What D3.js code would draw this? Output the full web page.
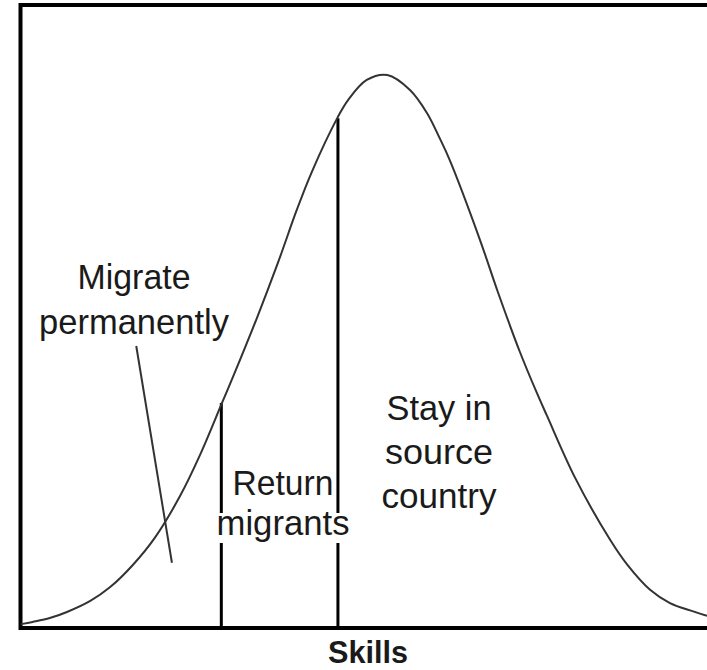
<!DOCTYPE html>
<html>
<head>
<meta charset="utf-8">
<script src="https://cdn.jsdelivr.net/npm/d3@7"></script>
<style>
  body { margin: 0; background: #fff; }
  svg { display: block; }
  text { font-family: "Liberation Sans", Arial, Helvetica, sans-serif; fill: #1a1a1a; }
</style>
</head>
<body>
<svg id="canvas" width="707" height="670"></svg>
<script>
//Skill level (0-100 across the frame) and share of population
var skill   = [0, 1.7, 4.2, 6.7, 10.1, 13.0, 16.3, 19.5, 23.2, 26.1, 29.3, 30.9, 34.4, 37.5, 40.2, 42.4,
               46.1, 47.7, 50.4, 53.4, 56.7, 59.2, 61.1, 62.5, 66.9, 69.5, 72.7, 75.2, 76.7, 80.8,
               85.9, 88.4, 91.7, 94.6, 98.0, 100];
var density = [0.7, 1.1, 1.8, 2.9, 4.9, 7.4, 11.4, 16.3, 23.9, 31.3, 40.7, 45.4, 56.1, 66.2, 75.6, 82.5,
               92.2, 95.5, 99.1, 100, 97.3, 93.1, 88.4, 84.6, 70.2, 60.8, 50.0, 42.5, 38.3, 27.1,
               15.9, 11.4, 6.9, 4.5, 3.0, 2.2];

//Cut-off skill levels between the groups, and the curve height there
var cutSkill  = [29.2, 46.2];
var cutHeight = [40.7, 92.2];

//Pointer from the "Migrate permanently" label into the left tail
var pointerSkill   = [16.8, 22.0];
var pointerDensity = [51.0, 11.8];

var migrateLabel = ["Migrate", "permanently"];
var returnLabel  = ["Return", "migrants"];
var stayLabel    = ["Stay in", "source", "country"];
var axisTitle    = "Skills";

var svg = d3.select("#canvas"),
  width = +svg.attr("width"),
  height = +svg.attr("height");

var x = d3.scaleLinear().domain([0, 100]).range([21, 707]);
var y = d3.scaleLinear().domain([0, 100]).range([628, 75]);

var points = skill.map(function(s, i) { return {s: s, d: density[i]}; });

//frame: left, top and bottom (right side runs off the picture)
svg.append("path")
  .attr("d", "M" + width + ",5 H20.5 V628 H" + width)
  .attr("fill", "none")
  .attr("stroke", "#000")
  .attr("stroke-width", 4);

//group boundaries
svg.append("g").selectAll("line")
  .data(cutSkill)
  .enter().append("line")
  .attr("x1", function(d) { return x(d); })
  .attr("x2", function(d) { return x(d); })
  .attr("y1", y(0))
  .attr("y2", function(d, i) { return y(cutHeight[i]); })
  .attr("stroke", "#000")
  .attr("stroke-width", 3);

//the skill distribution
var line = d3.line()
  .x(function(d) { return x(d.s); })
  .y(function(d) { return y(d.d); })
  .curve(d3.curveCatmullRom.alpha(0.5));

svg.append("path")
  .datum(points)
  .attr("d", line)
  .attr("fill", "none")
  .attr("stroke", "#333")
  .attr("stroke-width", 2);

//pointer line
svg.append("line")
  .attr("x1", x(pointerSkill[0])).attr("y1", y(pointerDensity[0]))
  .attr("x2", x(pointerSkill[1])).attr("y2", y(pointerDensity[1]))
  .attr("stroke", "#333")
  .attr("stroke-width", 2);

function addLabel(lines, cx, baseY, gap, widths, knockout) {
  var g = svg.append("g");
  lines.forEach(function(t, i) {
    var by = baseY + i * gap;
    if (knockout && i == lines.length - 1) {
      g.append("rect")
        .attr("x", cx - widths[i] / 2 - 2).attr("y", by - 22)
        .attr("width", widths[i] + 4).attr("height", 30)
        .attr("fill", "#fff");
    }
    g.append("text")
      .attr("x", cx).attr("y", by)
      .attr("text-anchor", "middle")
      .attr("font-size", 35)
      .attr("textLength", widths[i])
      .attr("lengthAdjust", "spacingAndGlyphs")
      .text(t);
  });
}

addLabel(migrateLabel, 134, 289, 45, [113, 190], false);
addLabel(returnLabel, 283, 495, 40, [101, 133], true);
addLabel(stayLabel, 439, 420, 44, [105, 108, 115], false);

svg.append("text")
  .attr("x", 368).attr("y", 663)
  .attr("text-anchor", "middle")
  .attr("font-size", 32)
  .attr("font-weight", "bold")
  .attr("textLength", 80)
  .attr("lengthAdjust", "spacingAndGlyphs")
  .text(axisTitle);
</script>
</body>
</html>
